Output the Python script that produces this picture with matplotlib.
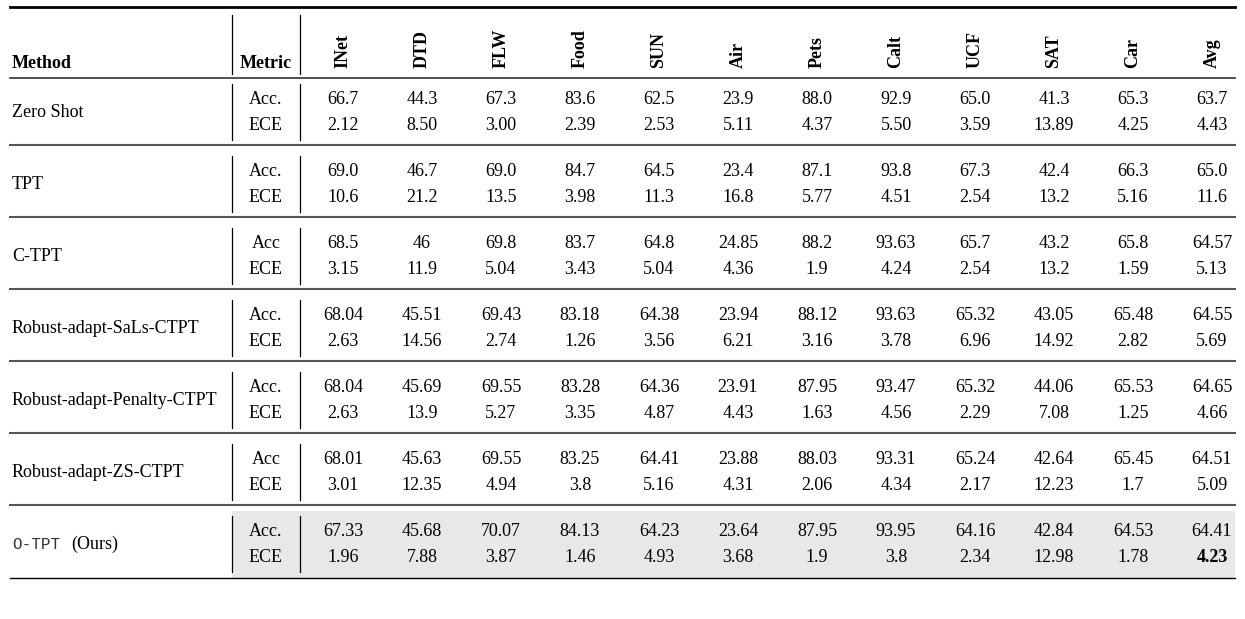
import matplotlib
matplotlib.use("Agg")
import matplotlib.pyplot as plt

datasets = ["INet","DTD","FLW","Food","SUN","Air","Pets","Calt","UCF","SAT","Car","Avg"]
methods = ["Zero Shot","TPT","C-TPT","Robust-adapt-SaLs-CTPT","Robust-adapt-Penalty-CTPT","Robust-adapt-ZS-CTPT","O-TPT"]
metrics = [["Acc.","ECE"],["Acc.","ECE"],["Acc","ECE"],["Acc.","ECE"],["Acc.","ECE"],["Acc","ECE"],["Acc.","ECE"]]
acc = [
 ["66.7","44.3","67.3","83.6","62.5","23.9","88.0","92.9","65.0","41.3","65.3","63.7"],
 ["69.0","46.7","69.0","84.7","64.5","23.4","87.1","93.8","67.3","42.4","66.3","65.0"],
 ["68.5","46","69.8","83.7","64.8","24.85","88.2","93.63","65.7","43.2","65.8","64.57"],
 ["68.04","45.51","69.43","83.18","64.38","23.94","88.12","93.63","65.32","43.05","65.48","64.55"],
 ["68.04","45.69","69.55","83.28","64.36","23.91","87.95","93.47","65.32","44.06","65.53","64.65"],
 ["68.01","45.63","69.55","83.25","64.41","23.88","88.03","93.31","65.24","42.64","65.45","64.51"],
 ["67.33","45.68","70.07","84.13","64.23","23.64","87.95","93.95","64.16","42.84","64.53","64.41"],
]
ece = [
 ["2.12","8.50","3.00","2.39","2.53","5.11","4.37","5.50","3.59","13.89","4.25","4.43"],
 ["10.6","21.2","13.5","3.98","11.3","16.8","5.77","4.51","2.54","13.2","5.16","11.6"],
 ["3.15","11.9","5.04","3.43","5.04","4.36","1.9","4.24","2.54","13.2","1.59","5.13"],
 ["2.63","14.56","2.74","1.26","3.56","6.21","3.16","3.78","6.96","14.92","2.82","5.69"],
 ["2.63","13.9","5.27","3.35","4.87","4.43","1.63","4.56","2.29","7.08","1.25","4.66"],
 ["3.01","12.35","4.94","3.8","5.16","4.31","2.06","4.34","2.17","12.23","1.7","5.09"],
 ["1.96","7.88","3.87","1.46","4.93","3.68","1.9","3.8","2.34","12.98","1.78","4.23"],
]

W, H = 1245, 619
fig = plt.figure(figsize=(W/100, H/100), dpi=100)
ax = fig.add_axes([0, 0, 1, 1])
ax.set_xlim(0, W); ax.set_ylim(H, 0); ax.axis("off")
serif = "Liberation Serif"
fs = 13

x0, x1 = 10, 1235
vm, vd = 232, 300
col_x = [343 + i*79 for i in range(len(datasets))]

# header
ax.plot([x0, x1], [7, 7], color="black", lw=2)
ax.plot([x0, x1], [78, 78], color="#333333", lw=1.2)
ax.plot([vm, vm], [15, 74], color="black", lw=0.9)
ax.plot([vd, vd], [15, 74], color="black", lw=0.9)
ax.text(12, 68, "Method", fontsize=fs, fontweight="bold", family=serif, va="baseline")
ax.text(266, 68, "Metric", fontsize=fs, fontweight="bold", family=serif, va="baseline", ha="center")
for x, d in zip(col_x, datasets):
    ax.text(x, 68, d, fontsize=fs, fontweight="bold", family=serif, rotation=90, ha="center", va="bottom")

top = 78
gh = 72
for g, m in enumerate(methods):
    ytop = top + g*gh
    ya, ye = ytop + 21, ytop + 48
    if g == len(methods) - 1:
        ax.add_patch(plt.Rectangle((vm, ytop + 1), x1 - vm, gh - 4, color="#e8e8e8", zorder=0, lw=0))
        ax.text(12, (ya+ye)/2, "O-TPT", fontsize=11.5, family="Liberation Mono", va="center", color="#333333")
        ax.text(71, (ya+ye)/2, "(Ours)", fontsize=fs, family=serif, va="center")
    else:
        ax.text(12, (ya+ye)/2, m, fontsize=fs, family=serif, va="center")
    ax.plot([vm, vm], [ytop + 6, ytop + 62], color="black", lw=0.9)
    ax.plot([vd, vd], [ytop + 6, ytop + 62], color="black", lw=0.9)
    ax.text(266, ya, metrics[g][0], fontsize=fs, family=serif, ha="center", va="center")
    ax.text(266, ye, metrics[g][1], fontsize=fs, family=serif, ha="center", va="center")
    for j, x in enumerate(col_x):
        ax.text(x, ya, acc[g][j], fontsize=fs, family=serif, ha="center", va="center")
        bold = (g == len(methods) - 1 and j == len(col_x) - 1)
        ax.text(x, ye, ece[g][j], fontsize=fs, family=serif, ha="center", va="center",
                fontweight="bold" if bold else "normal")
    yl = ytop + 67
    if g < len(methods) - 1:
        ax.plot([x0, x1], [yl, yl], color="#555555", lw=1.5)
    else:
        ax.plot([x0, x1], [yl + 1, yl + 1], color="black", lw=1.0)

fig.savefig("out.png", dpi=100)
